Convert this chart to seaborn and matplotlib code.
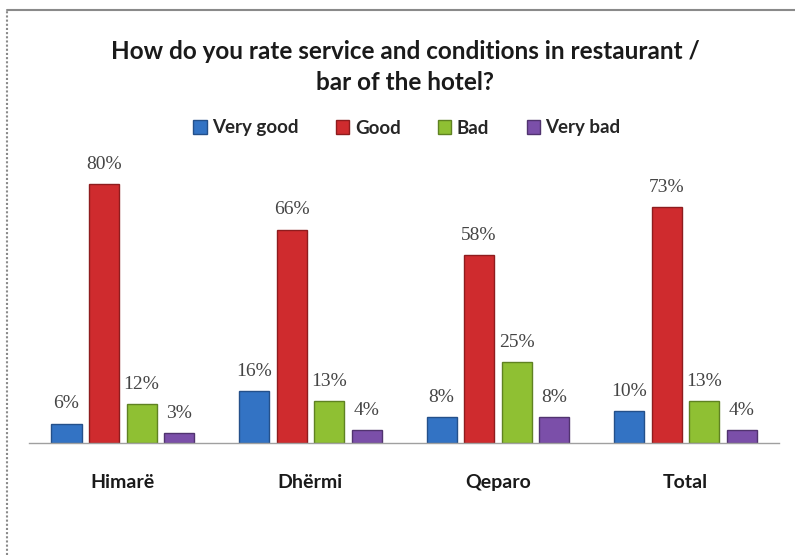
import matplotlib
matplotlib.use("Agg")
import matplotlib.pyplot as plt
from matplotlib.lines import Line2D
from matplotlib.patches import Patch
import pandas as pd
import seaborn as sns

# Survey answers per location (percent of respondents)
locations = ["Himarë", "Dhërmi", "Qeparo", "Total"]
ratings = ["Very good", "Good", "Bad", "Very bad"]
very_good = [6, 16, 8, 10]
good = [80, 66, 58, 73]
bad = [12, 13, 25, 13]
very_bad = [3, 4, 8, 4]

colors = ["#3373c4", "#cf2b2e", "#8fc033", "#7b4fa9"]
edges = ["#24508a", "#8e1c1e", "#5f8222", "#51336f"]

rows = []
for rating, vals in zip(ratings, [very_good, good, bad, very_bad]):
    for loc, v in zip(locations, vals):
        rows.append({"Location": loc, "Rating": rating, "Percent": v})
df = pd.DataFrame(rows)

sns.set_theme(style="white")
plt.rcParams["font.family"] = ["Lato", "DejaVu Sans"]

fig = plt.figure(figsize=(7.95, 5.55), dpi=100)
ax = fig.add_axes([29 / 795, 112 / 555, 750 / 795, 291 / 555])

sns.barplot(data=df, x="Location", y="Percent", hue="Rating",
            order=locations, hue_order=ratings, palette=colors,
            gap=0.2, width=0.8, saturation=1, legend=False, ax=ax)

for cont, ec in zip(ax.containers, edges):
    for bar in cont:
        bar.set_edgecolor(ec)
        bar.set_linewidth(1.0)
    ax.bar_label(cont, labels=[f"{b.get_height():.0f}%" for b in cont],
                 padding=8, fontsize=14, color="#454545",
                 family="Liberation Serif")

ax.set_xlim(-0.5, 3.5)
ax.set_ylim(0, 90)
ax.set_xlabel("")
ax.set_ylabel("")
ax.set_yticks([])
for s in ["top", "right", "left"]:
    ax.spines[s].set_visible(False)
ax.spines["bottom"].set_color("#a0a0a0")
ax.spines["bottom"].set_linewidth(1.0)
ax.tick_params(axis="x", length=0, pad=22)
for lbl in ax.get_xticklabels():
    lbl.set_fontweight("bold")
    lbl.set_fontsize(14)
    lbl.set_color("#1a1a1a")

fig.text(405 / 795, 1 - 67 / 555,
         "How do you rate service and conditions in restaurant /\nbar of the hotel?",
         ha="center", va="center", fontsize=17.5, fontweight="bold",
         color="#1a1a1a", linespacing=1.42)

handles = [Patch(facecolor=c, edgecolor=e) for c, e in zip(colors, edges)]
fig.legend(handles, ratings, loc="center", bbox_to_anchor=(407 / 795, 1 - 128 / 555),
           ncol=4, frameon=False, handlelength=0.7, handleheight=0.7,
           handletextpad=0.3, columnspacing=2.0,
           prop={"weight": "bold", "size": 13.5})

# Frame around the chart area
fig.add_artist(Line2D([7 / 795, 1], [1 - 10 / 555, 1 - 10 / 555],
                      transform=fig.transFigure, color="#8a8a8a", lw=1.5))
fig.add_artist(Line2D([7 / 795, 7 / 795], [0, 1 - 10 / 555],
                      transform=fig.transFigure, color="#8a8a8a", lw=1.5,
                      linestyle=(0, (1, 1))))

fig.savefig("out.png", dpi=100)
